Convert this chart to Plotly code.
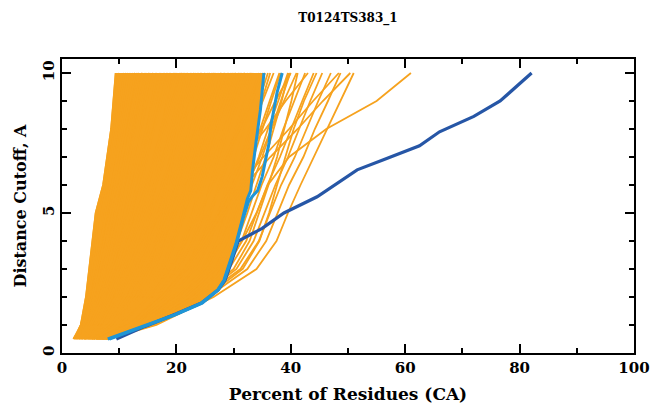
import plotly.graph_objects as go

TITLE = "T0124TS383_1"
X_TITLE = "Percent of Residues (CA)"
Y_TITLE = "Distance Cutoff, A"

# distance cutoffs at which every orange curve is sampled
Y_LEVELS = [0.5, 1, 2, 3, 4, 5, 6, 7, 8, 9, 10]

# orange curves: percent of residues (x) at each cutoff in Y_LEVELS
ORANGE_LEFT = [
    [2.2, 3.3, 4.2, 4.8, 5.3, 5.9, 7.2, 7.9, 8.6, 9.0, 9.4],
    [2.1, 3.5, 4.5, 5.1, 5.7, 6.3, 7.4, 8.2, 8.9, 9.4, 9.8],
    [2.3, 3.4, 4.4, 5.0, 5.5, 6.1, 7.3, 8.1, 8.8, 9.2, 10.0],
    [2.5, 3.6, 4.6, 5.3, 5.9, 6.5, 7.6, 8.4, 9.2, 9.9, 10.5],
    [2.6, 3.8, 4.9, 5.6, 6.2, 6.9, 7.9, 8.7, 9.5, 10.2, 10.9],
    [3.0, 4.3, 5.7, 6.7, 7.4, 8.1, 8.7, 9.3, 10.0, 10.5, 11.2],
    [3.0, 4.1, 5.3, 6.1, 6.8, 7.5, 8.4, 9.2, 10.1, 10.9, 11.6],
    [2.8, 3.9, 5.1, 6.0, 6.9, 7.9, 8.7, 9.5, 10.3, 11.2, 12.0],
    [2.0, 3.3, 4.6, 5.7, 6.7, 7.8, 8.7, 9.7, 10.6, 11.6, 12.5],
    [3.5, 5.0, 6.6, 7.7, 8.5, 9.3, 10.0, 10.7, 11.4, 12.1, 12.8],
    [2.7, 4.0, 5.4, 6.4, 7.3, 8.2, 9.2, 10.1, 11.0, 11.9, 12.8],
    [3.4, 4.8, 6.2, 7.2, 8.0, 8.8, 9.7, 10.6, 11.5, 12.4, 13.2],
    [2.0, 3.6, 5.2, 6.3, 7.3, 8.4, 9.4, 10.4, 11.4, 12.4, 13.4],
    [2.4, 3.7, 5.2, 6.3, 7.4, 8.5, 9.5, 10.5, 11.5, 12.5, 13.5],
    [4.0, 5.6, 7.3, 8.5, 9.4, 10.2, 11.0, 11.7, 12.5, 13.2, 14.0],
    [2.3, 4.2, 6.2, 7.6, 8.6, 9.6, 10.5, 11.3, 12.2, 13.1, 14.0],
    [2.5, 3.9, 5.5, 6.7, 7.8, 8.9, 10.0, 11.0, 12.0, 13.1, 14.2],
    [3.8, 5.3, 6.9, 8.0, 9.0, 9.9, 10.9, 11.8, 12.8, 13.7, 14.6],
    [3.2, 4.6, 6.1, 7.3, 8.4, 9.6, 10.6, 11.7, 12.7, 13.8, 14.8],
    [2.9, 4.4, 6.0, 7.2, 8.4, 9.5, 10.7, 11.8, 12.9, 14.1, 15.2],
    [4.5, 6.2, 8.1, 9.4, 10.3, 11.2, 12.1, 12.8, 13.7, 14.4, 15.3],
    [3.3, 5.3, 7.3, 8.8, 9.9, 10.9, 11.8, 12.7, 13.7, 14.5, 15.5],
    [4.1, 5.9, 7.7, 8.9, 9.9, 10.9, 11.9, 12.9, 13.9, 14.9, 15.9],
    [2.9, 4.5, 6.2, 7.5, 8.8, 10.1, 11.3, 12.5, 13.6, 14.8, 16.0],
    [4.3, 6.5, 8.9, 10.6, 11.7, 12.6, 13.3, 14.2, 14.9, 15.7, 16.5],
    [5.0, 6.9, 8.8, 10.2, 11.3, 12.2, 13.1, 13.9, 14.9, 15.7, 16.6],
    [3.6, 5.2, 7.0, 8.4, 9.7, 11.1, 12.3, 13.5, 14.8, 16.0, 17.2],
    [2.4, 4.4, 6.6, 8.2, 9.6, 11.0, 12.3, 13.6, 14.9, 16.2, 17.4],
    [4.2, 6.4, 8.7, 10.3, 11.5, 12.6, 13.7, 14.7, 15.8, 16.7, 17.8],
    [4.5, 6.1, 7.9, 9.2, 10.6, 11.9, 13.1, 14.4, 15.6, 16.8, 18.0],
    [5.5, 7.0, 8.7, 10.0, 11.3, 12.6, 13.8, 14.9, 16.1, 17.2, 18.4],
    [3.3, 5.2, 7.4, 9.1, 10.6, 12.0, 13.4, 14.7, 16.0, 17.3, 18.6],
    [3.0, 4.9, 7.0, 8.6, 10.2, 11.8, 13.2, 14.7, 16.1, 17.6, 19.0],
    [5.6, 8.3, 11.4, 13.6, 14.7, 15.4, 16.1, 16.9, 17.5, 18.3, 19.0],
    [4.8, 7.2, 9.7, 11.5, 12.8, 14.0, 15.2, 16.2, 17.4, 18.4, 19.6],
    [4.6, 6.8, 9.2, 10.9, 12.3, 13.6, 14.9, 16.1, 17.3, 18.6, 19.8],
    [3.1, 5.8, 8.7, 10.7, 12.2, 13.6, 14.9, 16.1, 17.5, 18.6, 20.0],
    [6.0, 7.7, 9.6, 11.0, 12.4, 13.8, 15.1, 16.4, 17.6, 18.9, 20.2],
    [2.8, 5.1, 7.8, 9.8, 11.5, 13.1, 14.7, 16.2, 17.8, 19.3, 20.7],
    [3.8, 5.8, 8.1, 9.8, 11.5, 13.2, 14.7, 16.2, 17.7, 19.3, 20.8],
    [2.6, 4.8, 7.2, 9.0, 10.9, 12.7, 14.4, 16.0, 17.7, 19.3, 21.0],
]

ORANGE_MID = [
    [3.5, 5.6, 8.0, 9.9, 11.6, 13.3, 14.9, 16.5, 18.0, 19.6, 21.1],
    [5.2, 7.8, 10.5, 12.5, 14.0, 15.2, 16.5, 17.7, 19.0, 20.1, 21.4],
    [5.9, 9.0, 12.6, 15.3, 16.5, 17.3, 18.1, 19.0, 19.8, 20.6, 21.5],
    [5.3, 7.6, 10.1, 12.0, 13.6, 15.0, 16.4, 17.8, 19.1, 20.5, 21.8],
    [4.4, 6.5, 8.8, 10.6, 12.3, 14.1, 15.7, 17.2, 18.8, 20.4, 22.0],
    [6.5, 9.1, 11.8, 13.7, 15.2, 16.5, 17.8, 18.9, 20.2, 21.3, 22.6],
    [4.2, 6.6, 9.3, 11.3, 13.1, 14.8, 16.4, 18.0, 19.5, 21.1, 22.7],
    [6.1, 8.6, 11.4, 13.4, 15.0, 16.4, 17.8, 19.1, 20.5, 21.9, 23.1],
    [3.4, 5.8, 8.4, 10.3, 12.3, 14.3, 16.1, 17.9, 19.6, 21.4, 23.2],
    [3.7, 6.1, 8.7, 10.6, 12.6, 14.6, 16.4, 18.2, 19.9, 21.7, 23.5],
    [5.7, 8.6, 11.7, 13.8, 15.5, 16.9, 18.4, 19.6, 21.1, 22.4, 23.8],
    [5.8, 8.0, 10.4, 12.2, 14.0, 15.8, 17.4, 19.1, 20.7, 22.4, 24.0],
    [3.9, 6.6, 9.6, 11.8, 13.8, 15.7, 17.5, 19.2, 20.9, 22.6, 24.3],
    [4.9, 7.2, 9.8, 11.7, 13.7, 15.6, 17.4, 19.1, 20.9, 22.6, 24.4],
    [6.8, 9.7, 12.8, 15.0, 16.6, 18.1, 19.5, 20.8, 22.3, 23.5, 25.0],
    [5.5, 8.3, 11.4, 13.6, 15.5, 17.2, 18.8, 20.4, 21.9, 23.5, 25.1],
    [4.0, 6.6, 9.4, 11.6, 13.7, 15.9, 17.8, 19.8, 21.7, 23.7, 25.6],
    [6.0, 9.6, 13.5, 16.3, 18.1, 19.5, 20.7, 22.0, 23.2, 24.5, 25.8],
    [4.4, 7.2, 10.4, 12.8, 14.9, 16.9, 18.8, 20.6, 22.4, 24.2, 25.9],
    [5.4, 8.7, 12.3, 14.8, 16.6, 18.3, 20.0, 21.4, 23.1, 24.5, 26.2],
    [6.3, 9.4, 12.8, 15.3, 17.2, 18.8, 20.4, 21.9, 23.5, 25.0, 26.6],
    [6.2, 8.7, 11.4, 13.4, 15.5, 17.5, 19.4, 21.2, 23.1, 25.0, 26.8],
    [3.9, 7.6, 11.5, 14.3, 16.4, 18.2, 20.1, 21.7, 23.5, 25.2, 27.0],
    [7.0, 10.3, 13.7, 16.2, 18.0, 19.6, 21.3, 22.7, 24.3, 25.8, 27.4],
    [4.8, 7.9, 11.4, 14.0, 16.3, 18.4, 20.4, 22.3, 24.2, 26.0, 27.8],
    [4.6, 7.4, 10.5, 12.8, 15.1, 17.5, 19.6, 21.7, 23.8, 25.9, 28.0],
    [6.7, 9.9, 13.5, 16.1, 18.1, 19.9, 21.6, 23.3, 25.1, 26.8, 28.4],
    [5.0, 9.2, 13.9, 17.2, 19.3, 21.0, 22.4, 24.0, 25.4, 27.0, 28.5],
    [5.9, 9.5, 13.4, 16.1, 18.2, 20.0, 21.8, 23.4, 25.2, 26.8, 28.6],
    [6.6, 9.3, 12.3, 14.5, 16.8, 19.0, 21.1, 23.1, 25.1, 27.2, 29.2],
    [5.2, 8.6, 12.4, 15.2, 17.6, 19.8, 21.8, 23.8, 25.8, 27.8, 29.6],
    [7.3, 10.9, 14.7, 17.4, 19.5, 21.3, 23.1, 24.6, 26.4, 28.0, 29.8],
    [7.2, 9.9, 12.9, 15.2, 17.5, 19.7, 21.8, 23.8, 25.9, 28.0, 30.0],
    [7.1, 10.6, 14.5, 17.3, 19.4, 21.3, 23.1, 24.9, 26.7, 28.5, 30.3],
    [5.1, 8.1, 11.4, 14.0, 16.5, 19.0, 21.3, 23.6, 25.8, 28.1, 30.4],
    [5.6, 9.3, 13.4, 16.4, 18.8, 21.0, 23.1, 25.1, 27.0, 29.0, 30.9],
    [6.4, 10.3, 14.5, 17.5, 19.7, 21.7, 23.6, 25.3, 27.3, 29.0, 31.0],
    [6.9, 11.0, 15.5, 18.7, 21.0, 22.8, 24.5, 26.3, 28.0, 29.6, 31.3],
    [6.6, 11.1, 16.1, 19.5, 21.8, 23.5, 25.0, 26.8, 28.3, 29.9, 31.5],
    [4.7, 8.0, 11.5, 14.3, 17.0, 19.7, 22.2, 24.6, 27.1, 29.5, 32.0],
    [7.4, 10.5, 13.8, 16.4, 18.9, 21.5, 23.8, 26.1, 28.4, 30.7, 33.0],
]

ORANGE_RIGHT = [
    [6.0, 9.2, 12.9, 15.6, 16.9, 17.7, 18.5, 19.4, 20.2, 21.1, 22.0],
    [7.0, 10.2, 13.7, 16.1, 17.7, 18.9, 20.0, 21.2, 22.2, 23.4, 24.5],
    [5.5, 9.7, 14.5, 18.1, 19.8, 20.8, 21.9, 23.1, 24.2, 25.3, 26.5],
    [7.5, 11.2, 15.2, 18.1, 19.9, 21.3, 22.5, 23.9, 25.2, 26.5, 27.8],
    [6.3, 10.8, 16.1, 19.9, 21.7, 22.9, 24.0, 25.4, 26.5, 27.8, 29.0],
    [7.8, 11.8, 16.2, 19.3, 21.3, 22.9, 24.2, 25.8, 27.1, 28.6, 30.0],
    [6.9, 11.8, 17.3, 21.5, 23.4, 24.6, 25.9, 27.3, 28.5, 29.9, 31.2],
    [6.4, 11.3, 16.8, 20.5, 22.8, 24.4, 25.9, 27.4, 28.9, 30.4, 31.8],
    [7.6, 12.1, 17.1, 20.5, 22.8, 24.5, 26.0, 27.8, 29.3, 30.9, 32.5],
    [7.3, 12.4, 18.2, 22.3, 24.6, 26.0, 27.3, 28.9, 30.3, 31.8, 33.2],
    [6.1, 11.6, 17.9, 22.5, 24.7, 26.1, 27.5, 29.1, 30.5, 32.0, 33.5],
    [7.9, 12.7, 18.0, 21.7, 24.1, 26.0, 27.6, 29.4, 31.0, 32.8, 34.5],
    [6.8, 12.0, 18.5, 23.5, 26.0, 27.4, 28.8, 30.4, 31.8, 33.3, 34.8],
    [5.3, 10.1, 15.3, 18.9, 21.6, 24.0, 26.4, 28.5, 31.0, 33.1, 35.5],
    [7.2, 13.0, 19.6, 24.5, 26.8, 28.2, 29.7, 31.4, 32.8, 34.4, 36.0],
    [7.7, 13.2, 19.8, 24.8, 27.2, 28.7, 30.2, 31.9, 33.4, 34.9, 36.4],
    [8.0, 13.2, 19.0, 23.1, 25.7, 27.7, 29.5, 31.5, 33.2, 35.1, 37.0],
    [6.7, 13.0, 20.2, 25.5, 28.0, 29.5, 31.1, 33.0, 34.6, 36.3, 38.0],
    [7.0, 13.5, 21.0, 26.2, 28.8, 30.2, 31.7, 33.5, 35.0, 36.6, 38.2],
    [7.7, 14.1, 21.4, 26.8, 29.3, 30.9, 32.5, 34.4, 36.0, 37.8, 39.5],
    [7.6, 13.8, 21.8, 27.8, 30.6, 32.4, 34.0, 35.6, 37.0, 38.4, 39.6],
    [7.9, 14.2, 22.0, 27.5, 30.0, 31.6, 33.2, 35.0, 36.6, 38.3, 39.9],
    [6.2, 11.6, 17.4, 21.4, 24.5, 27.2, 29.9, 32.2, 34.9, 37.3, 40.0],
    [7.4, 13.4, 20.2, 24.9, 27.9, 30.2, 32.3, 34.6, 36.6, 38.8, 41.0],
    [7.8, 15.0, 24.0, 30.0, 32.8, 34.5, 36.1, 37.6, 38.9, 40.1, 41.2],
    [7.9, 14.8, 22.8, 28.7, 31.4, 33.2, 34.9, 37.0, 38.7, 40.6, 42.5],
    [7.8, 12.0, 16.6, 20.1, 22.9, 25.4, 28.2, 31.7, 35.6, 39.1, 43.0],
    [7.1, 14.5, 23.0, 29.2, 32.2, 34.0, 35.9, 38.1, 40.0, 42.0, 44.0],
    [8.0, 15.8, 25.2, 31.6, 34.5, 36.2, 37.6, 39.0, 40.5, 42.3, 44.5],
    [8.0, 15.5, 24.1, 30.5, 33.5, 35.4, 37.3, 39.5, 41.4, 43.4, 45.5],
    [7.5, 15.4, 24.5, 31.2, 34.4, 36.3, 38.3, 40.7, 42.7, 44.8, 47.0],
    [7.2, 12.1, 17.5, 21.6, 24.9, 27.8, 31.1, 35.2, 39.7, 43.9, 48.4],
    [8.0, 16.1, 25.5, 32.4, 35.7, 37.7, 39.7, 42.2, 44.2, 46.5, 48.7],
    [6.5, 11.8, 17.5, 21.9, 25.4, 28.5, 32.0, 36.4, 41.2, 45.6, 50.4],
    [8.0, 16.5, 26.5, 34.0, 37.5, 39.5, 41.7, 44.0, 46.4, 48.7, 51.0],
    [7.8, 15.0, 23.0, 28.5, 31.5, 34.0, 36.0, 39.7, 46.2, 55.0, 61.0],
]

# highlighted models
CYAN_A_X = [8.0, 13.8, 19.6, 24.3, 27.2, 28.3, 29.5, 30.4, 31.5, 32.4, 33.0, 33.3, 33.9, 34.7, 35.3]
CYAN_A_Y = [0.5, 0.94, 1.36, 1.78, 2.25, 2.6, 3.3, 3.9, 4.75, 5.5, 5.8, 6.5, 7.5, 8.7, 10.0]
CYAN_B_X = [8.3, 14.0, 19.8, 24.5, 27.3, 28.4, 29.6, 30.5, 31.6, 32.6, 33.3, 34.2, 35.0, 35.6, 36.2, 36.5, 37.6, 38.5]
CYAN_B_Y = [0.5, 0.94, 1.36, 1.78, 2.25, 2.6, 3.3, 3.9, 4.75, 5.4, 5.6, 5.8, 6.3, 6.9, 7.5, 8.1, 9.3, 10.0]
DARK_X = [9.5, 14.5, 20.0, 24.5, 27.3, 28.5, 29.7, 30.8, 35.0, 38.8, 44.6, 51.6, 56.2, 62.5, 66.0, 72.0, 76.6, 82.1]
DARK_Y = [0.5, 0.95, 1.4, 1.8, 2.25, 2.6, 3.3, 4.0, 4.45, 5.0, 5.58, 6.54, 6.9, 7.4, 7.9, 8.45, 9.0, 10.0]

X_TICKS = [0, 20, 40, 60, 80, 100]
Y_TICKS = [0, 5, 10]

ORANGE = "#F6A21E"
CYAN = "#1F95D6"
DARK = "#2656A6"
FONT = "DejaVu Serif"

fig = go.Figure()

# dense core of overlapping orange curves: filled between the leftmost
# orange curve and the first highlighted model, which bound it
fig.add_trace(go.Scatter(x=ORANGE_LEFT[0], y=Y_LEVELS, mode="lines",
                         line=dict(color=ORANGE, width=2.0),
                         showlegend=False, hoverinfo="skip"))
fig.add_trace(go.Scatter(x=CYAN_A_X, y=CYAN_A_Y, mode="lines",
                         line=dict(width=0, color=ORANGE), fill="tonextx",
                         fillcolor=ORANGE, showlegend=False, hoverinfo="skip"))

for curve in ORANGE_LEFT + ORANGE_MID + ORANGE_RIGHT:
    fig.add_trace(go.Scatter(x=curve, y=Y_LEVELS, mode="lines",
                             line=dict(color=ORANGE, width=1.8),
                             showlegend=False, hoverinfo="skip"))
fig.add_trace(go.Scatter(x=DARK_X, y=DARK_Y, mode="lines",
                         line=dict(color=DARK, width=3.2), showlegend=False))
fig.add_trace(go.Scatter(x=CYAN_B_X, y=CYAN_B_Y, mode="lines",
                         line=dict(color=CYAN, width=3.0), showlegend=False))
fig.add_trace(go.Scatter(x=CYAN_A_X, y=CYAN_A_Y, mode="lines",
                         line=dict(color=CYAN, width=3.0), showlegend=False))

axis_common = dict(
    showgrid=False, zeroline=False, showline=True, linecolor="black",
    linewidth=2, mirror="allticks", ticks="inside", tickcolor="black",
    tickwidth=2, ticklen=9, automargin=False,
    tickfont=dict(family=FONT, size=15, color="black", weight="bold"),
)

fig.update_layout(
    width=652, height=416,
    margin=dict(l=62, r=18, t=59, b=63),
    paper_bgcolor="white", plot_bgcolor="white",
    title=dict(text=TITLE, x=0.5, xref="paper", xanchor="center",
               y=0.957, yref="container", yanchor="middle",
               font=dict(family=FONT, size=12, color="black", weight="bold")),
    xaxis=dict(range=[0, 100], tickvals=X_TICKS,
               minor=dict(dtick=10, tick0=0, ticks="inside", ticklen=5,
                          tickwidth=2, tickcolor="black"),
               title=dict(text=X_TITLE, standoff=12,
                          font=dict(family=FONT, size=17, color="black", weight="bold")),
               **axis_common),
    yaxis=dict(range=[0, 10.5], tickvals=Y_TICKS, tickangle=-90,
               minor=dict(dtick=1, tick0=0, ticks="inside", ticklen=5,
                          tickwidth=2, tickcolor="black"),
               title=dict(text=Y_TITLE, standoff=9,
                          font=dict(family=FONT, size=16, color="black", weight="bold")),
               **axis_common),
)

# remove the browser's default page margin so the 652x416 figure fills the window
fig.write_html(
    "out.html",
    config={"displayModeBar": False},
    post_script=("document.documentElement.style.overflow='hidden';"
                 "document.body.style.overflow='hidden';"
                 "document.body.style.margin='0';"),
)
